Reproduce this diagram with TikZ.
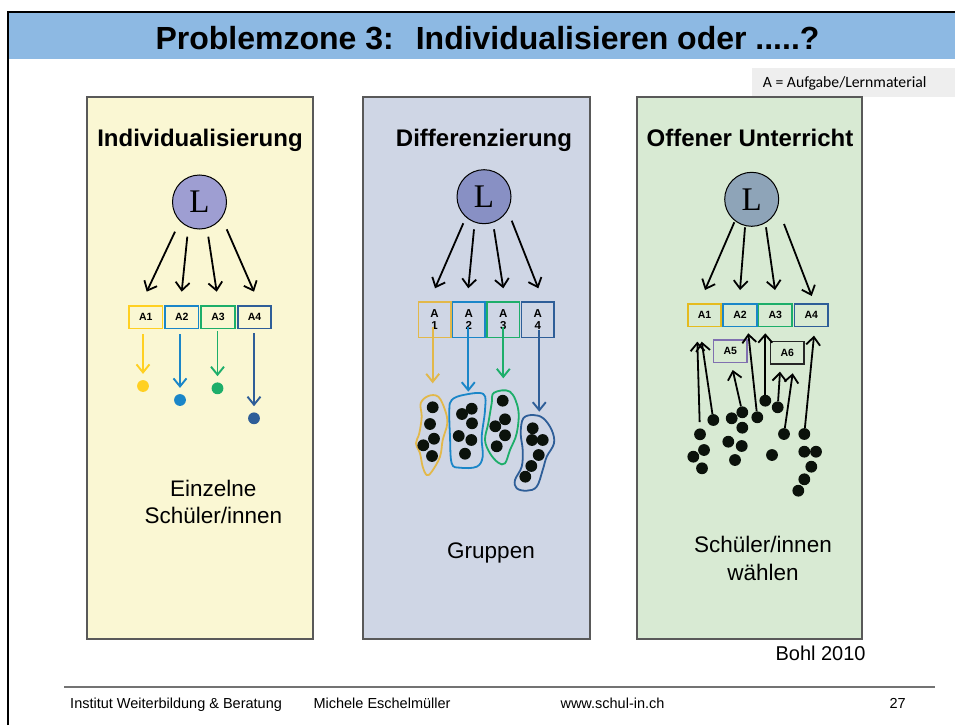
\documentclass[tikz,border=0pt]{standalone}
\usepackage{fontspec}
\setmainfont{Liberation Sans}
\newfontfamily\legendfont{Carlito}
\newfontfamily\serifL{Liberation Serif}
\usetikzlibrary{arrows.meta}
\definecolor{bandblue}{HTML}{8DB9E3}
\definecolor{legendgray}{HTML}{EEEEEE}
\definecolor{pyellow}{HTML}{FAF7D3}
\definecolor{pblue}{HTML}{CFD6E5}
\definecolor{pgreen}{HTML}{D8EAD3}
\definecolor{cYel}{HTML}{FFD022}
\definecolor{cYelM}{HTML}{E2B84A}
\definecolor{cBlu}{HTML}{1A86C8}
\definecolor{cGrn}{HTML}{1DAE6A}
\definecolor{cDbl}{HTML}{2E5E98}
\definecolor{cPur}{HTML}{8070B0}
\definecolor{lOne}{HTML}{9E9ED2}
\definecolor{lTwo}{HTML}{8890C4}
\definecolor{lThree}{HTML}{8EA4B8}
\definecolor{dotblack}{HTML}{0B120B}
\tikzset{
  panelbox/.style={draw=black!65, line width=1.1pt},
  lcirc/.style={circle, draw=black, line width=1pt, minimum size=54pt, inner sep=0pt, font=\serifL\fontsize{33}{33}\selectfont},
  abox/.style={draw, line width=1.6pt, minimum width=33.5pt, minimum height=22.6pt, inner sep=0pt, font=\bfseries\fontsize{10.5}{10.5}\selectfont},
  tbox/.style={draw, line width=1.6pt, minimum width=32.4pt, minimum height=35.6pt, inner sep=0pt, align=center, font=\bfseries\fontsize{11.5}{12}\selectfont},
  arr/.style={line width=1.8pt, -{Straight Barb[length=8pt,width=14pt,line width=1.8pt]}},
  carr/.style={line width=1.9pt, -{Straight Barb[length=8pt,width=13pt,line width=1.9pt]}},
  pdot/.style={circle, fill, inner sep=0pt, minimum size=11.8pt},
  grpblob/.style={line width=1.8pt},
  heading/.style={anchor=base, font=\bfseries\fontsize{24}{28}\selectfont},
  bodytext/.style={anchor=base, font=\fontsize{22.5}{27}\selectfont},
  foot/.style={anchor=base west, font=\fontsize{14.5}{17}\selectfont},
}
\begin{document}
\begin{tikzpicture}[x=1pt,y=-1pt]
\useasboundingbox (0,0) rectangle (955,725);
\fill[white] (0,0) rectangle (955,725);
% title band and frame
\fill[bandblue] (9,13) rectangle (955,59);
\draw[line width=2.5pt] (8,725) -- (8,12) -- (955,12);
\node[anchor=base, font=\bfseries\fontsize{32}{35}\selectfont] (title) at (487.5,49) {Problemzone 3:\hspace{22pt}Individualisieren oder .....?};
% legend
\fill[legendgray] (752,68) rectangle (955,97);
\node[anchor=base west, inner sep=0pt, font=\legendfont\fontsize{15.7}{18}\selectfont] (legend) at (762.7,88) {A = Aufgabe/Lernmaterial};
% panels
\draw[panelbox, fill=pyellow] (87,97) rectangle (313,639);
\draw[panelbox, fill=pblue] (363,97) rectangle (590,639);
\draw[panelbox, fill=pgreen] (637,97) rectangle (862,639);
\node[heading] (h1) at (200,146) {Individualisierung};
\node[heading] (h2) at (484,146) {Differenzierung};
\node[heading] (h3) at (750,146) {Offener Unterricht};

% ---------- panel 1
\node[lcirc, fill=lOne] (L1) at (199.5,202) {L};
\node[abox, draw=cYel] (A1) at (145.8,317) {A1};
\node[abox, draw=cBlu] (A2) at (181.8,317) {A2};
\node[abox, draw=cGrn] (A3) at (218,317) {A3};
\node[abox, draw=cDbl] (A4) at (254.5,317) {A4};
\coordinate (L1s1) at (175,231.7);   \coordinate (A1t) at (146.7,291.7);
\coordinate (L1s2) at (187.3,236.7); \coordinate (A2t) at (181.7,291.7);
\coordinate (L1s3) at (208.3,236.7); \coordinate (A3t) at (216.7,291.7);
\coordinate (L1s4) at (226.7,229.3); \coordinate (A4t) at (254,291.7);
\draw[arr] (L1s1) -- (A1t);
\draw[arr] (L1s2) -- (A2t);
\draw[arr] (L1s3) -- (A3t);
\draw[arr] (L1s4) -- (A4t);
\node[pdot, fill=cYel] (d1) at (143,386) {};
\node[pdot, fill=cBlu] (d2) at (180,400) {};
\node[pdot, fill=cGrn] (d3) at (217.5,388.3) {};
\node[pdot, fill=cDbl] (d4) at (254,418.3) {};
\draw[carr, cYel, shorten <=5pt, shorten >=6pt] (d1 |- A1.south) -- (d1);
\draw[carr, cBlu, shorten <=5pt, shorten >=6pt] (d2 |- A2.south) -- (d2);
\draw[carr, cGrn, shorten <=2pt, shorten >=6pt] (d3 |- A3.south) -- (d3);
\draw[carr, cDbl, shorten <=4pt, shorten >=6pt] (d4 |- A4.south) -- (d4);
\node[bodytext] (e1) at (213.3,496) {Einzelne};
\node[bodytext] (e2) at (213.3,523) {Schüler/innen};

% ---------- panel 2
\node[lcirc, fill=lTwo] (L2) at (484,196.7) {L};
\node[tbox, draw=cYelM] (B1) at (434.5,319.5) {A\\1};
\node[tbox, draw=cBlu] (B2) at (468.8,319.5) {A\\2};
\node[tbox, draw=cGrn] (B3) at (503.3,319.5) {A\\3};
\node[tbox, draw=cDbl] (B4) at (537.8,319.5) {A\\4};
\coordinate (L2s1) at (463.3,223.3); \coordinate (B1t) at (435,288.3);
\coordinate (L2s2) at (474,229.3);   \coordinate (B2t) at (468.3,288.3);
\coordinate (L2s3) at (494,229.3);   \coordinate (B3t) at (503.3,288.3);
\coordinate (L2s4) at (511.7,220.7); \coordinate (B4t) at (538.3,288.3);
\draw[arr] (L2s1) -- (B1t);
\draw[arr] (L2s2) -- (B2t);
\draw[arr] (L2s3) -- (B3t);
\draw[arr] (L2s4) -- (B4t);
\coordinate (t1) at (432.7,383.3);
\coordinate (t2) at (468.3,391.7);
\coordinate (t3) at (503.3,378.3);
\coordinate (t4) at (539.3,411.7);
\draw[carr, cYelM, shorten <=7pt] (t1 |- B1.center) -- (t1);
\draw[carr, cBlu, shorten <=7pt] (t2 |- B2.center) -- (t2);
\draw[carr, cGrn, shorten <=7pt] (t3 |- B3.center) -- (t3);
\draw[carr, cDbl, shorten <=10pt] (t4 |- B4.center) -- (t4);
% groups
\draw[grpblob, cYelM] plot[smooth cycle, tension=0.6] coordinates {(428.3,396) (438.3,396.7) (445,410) (447.3,423.3) (442.7,440) (440,456.7) (431.7,471.7) (426.7,475) (422.7,466.7) (420,453.3) (416,443.3) (419.3,433.3) (421.7,416.7) (420.7,403.3)};
\draw[grpblob, cBlu] plot[smooth cycle, tension=0.6] coordinates {(451.7,400) (463.3,395) (483.3,394) (485,410) (481.7,436.7) (482.7,456.7) (476.7,466.7) (460,467.7) (451.7,463.3) (450,436.7) (449.3,410)};
\draw[grpblob, cGrn] plot[smooth cycle, tension=0.6] coordinates {(494,392.7) (510,391.7) (518.3,410) (516.7,433.3) (510,450) (505,463.3) (498.3,462.7) (490,453.3) (485,440) (488.3,423.3) (491.7,403.3)};
\draw[grpblob, cDbl] plot[smooth cycle, tension=0.6] coordinates {(523.3,418.3) (533.3,415) (543.3,418.3) (551.7,430) (554,443.3) (546.7,456.7) (542.7,470) (536.7,486.7) (526.7,490.7) (516.7,488.3) (515,480) (521.7,466.7) (522.7,450) (520.7,433.3)};
\foreach \p [count=\i] in {(432.7,407.3),(430,424),(434,438.7),(423.3,445.3),(432,456),
  (471.7,408.7),(462,414),(472,423.3),(458.7,436),(471.3,440),(465,453.7),
  (502.7,400.7),(505,419.3),(495.3,426.3),(505,435.3),(496.7,446.3),
  (532.7,428.3),(532,440),(542.7,440),(538.7,455),(531.3,466),(525.3,476.7)}
  {\node[pdot, fill=dotblack] (g\i) at \p {};}
\node[bodytext] (gr) at (491,558) {Gruppen};

% ---------- panel 3
\node[lcirc, fill=lThree] (L3) at (751.7,199.3) {L};
\node[abox, draw=cYel!90!black] (C1) at (704.5,315.3) {A1};
\node[abox, draw=cBlu] (C2) at (740,315.3) {A2};
\node[abox, draw=cGrn] (C3) at (775.3,315.3) {A3};
\node[abox, draw=cDbl] (C4) at (811.3,315.3) {A4};
\node[abox, draw=cPur] (C5) at (730.3,351.3) {A5};
\node[abox, draw=black!85] (C6) at (787.2,352.7) {A6};
\coordinate (L3s1) at (734.3,222.3); \coordinate (C1t) at (705,290);
\coordinate (L3s2) at (745,227.3);   \coordinate (C2t) at (740,290);
\coordinate (L3s3) at (766,227.3);   \coordinate (C3t) at (775,290);
\coordinate (L3s4) at (784,224);     \coordinate (C4t) at (811.7,296);
\draw[arr] (L3s1) -- (C1t);
\draw[arr] (L3s2) -- (C2t);
\draw[arr] (L3s3) -- (C3t);
\draw[arr] (L3s4) -- (C4t);
\foreach \p [count=\i] in {(713.3,420),(700,434.3),(704,450),(693.3,456.7),(702,468.3),
  (731.7,418.3),(742.3,412.3),(742.3,427.7),(728.3,441.7),(741.7,446),(735,460),
  (757.3,417.3),(765.3,400.7),(777.7,407.3),(784,434),(772,455),
  (804.3,434),(804.3,451.7),(816,451.7),(811.3,466.7),(804.3,479.3),(798.3,490.7)}
  {\node[pdot, fill=dotblack] (q\i) at \p {};}
\coordinate (u1) at (697.3,341.7);
\coordinate (u2) at (701.7,341.7);
\coordinate (u3) at (732.7,370);
\coordinate (u4) at (748.3,333.3);
\coordinate (u5) at (765.3,333.3);
\coordinate (u6) at (780,371.7);
\coordinate (u7) at (792.7,373.3);
\coordinate (u8) at (814,335.7);
\draw[arr, shorten <=6pt] (q2) -- (u1);
\draw[arr] (q1) -- (u2);
\draw[arr] (q7) -- (u3);
\draw[arr] (q12) -- (u4);
\draw[arr] (q13) -- (u5);
\draw[arr] (q14) -- (u6);
\draw[arr] (q15) -- (u7);
\draw[arr] (q17) -- (u8);
\node[bodytext] (s1) at (763,552) {Schüler/innen};
\node[bodytext] (s2) at (763,580) {wählen};

% source and footer
\node[anchor=base west, font=\fontsize{20}{24}\selectfont] (bohl) at (772,660) {Bohl 2010};
\coordinate (fl) at (64,687);
\coordinate (fr) at (935,687);
\draw[line width=2pt, black!55] (fl) -- (fr);
\node[foot] (f1) at (66.7,708) {Institut Weiterbildung \& Beratung};
\node[foot] (f2) at (310,708) {Michele Eschelmüller};
\node[foot] (f3) at (557,708) {www.schul-in.ch};
\node[foot] (f4) at (886,708) {27};
\end{tikzpicture}
\end{document}
